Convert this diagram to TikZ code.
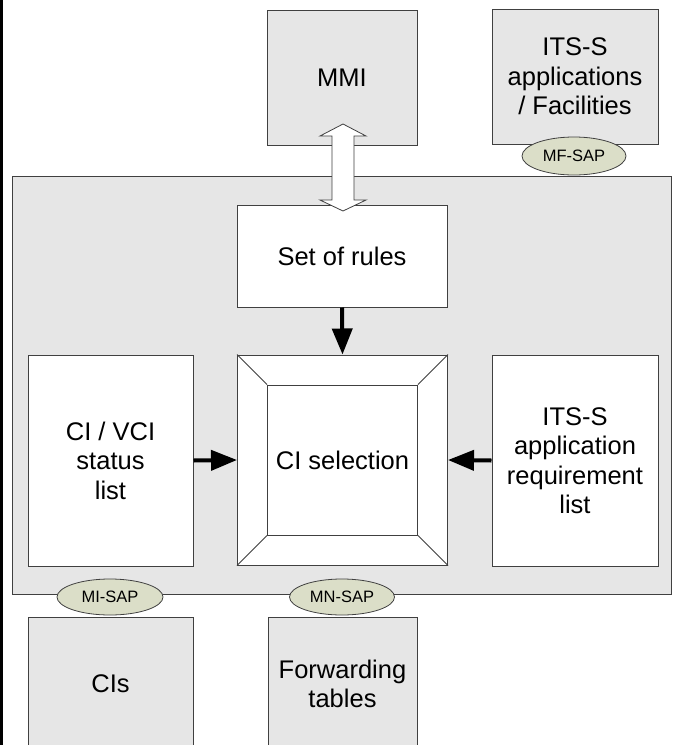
\documentclass[tikz,border=0pt]{standalone}
\usepackage{fontspec}
\setmainfont{Liberation Sans}
\usetikzlibrary{arrows.meta,shapes.geometric}
\definecolor{boxgray}{HTML}{E6E6E6}
\definecolor{sapfill}{HTML}{DBDEC8}
\definecolor{edge}{HTML}{404040}
\begin{document}
\begin{tikzpicture}[x=1pt,y=-1pt,
  box/.style={draw=edge,line width=1pt,inner sep=0pt,align=center,
    font=\fontsize{25.5}{29.5}\selectfont},
  graybox/.style={box,fill=boxgray},
  whitebox/.style={box,fill=white},
  sap/.style={ellipse,draw=edge,line width=0.8pt,fill=sapfill,inner sep=0pt,
    font=\fontsize{16.5}{18}\selectfont},
  bigarrow/.style={line width=4pt,-{Triangle[length=26pt,width=20pt]}}]
\clip (0,0) rectangle (673,745);
\fill[white] (0,0) rectangle (673,745);
\fill[black] (0,0) rectangle (3,745);
% outer container
\node[graybox,minimum width=659,minimum height=418] (big) at (341.5,385) {};
% top boxes
\node[graybox,minimum width=150,minimum height=135] (mmi) at (342,77.5) {MMI};
\node[graybox,minimum width=166,minimum height=135] (its) at (575,76.5) {ITS-S\\applications\\/ Facilities};
% inner boxes
\node[whitebox,minimum width=210,minimum height=102] (rules) at (342,256) {Set of rules};
\node[whitebox,minimum width=165,minimum height=211] (status) at (110.5,460.5) {CI / VCI\\status\\list};
\node[whitebox,minimum width=166,minimum height=211] (req) at (575,460.5) {ITS-S\\application\\requirement\\list};
\node[whitebox,minimum width=210,minimum height=210] (sel) at (342.5,460) {};
\node[whitebox,minimum width=150,minimum height=150] (selin) at (342.5,460) {CI selection};
\foreach \c in {north west,north east,south west,south east}
  \draw[edge,line width=0.8pt] (sel.\c) -- (selin.\c);
% bottom boxes
\node[graybox,minimum width=165,minimum height=134] (cis) at (110.5,684) {CIs};
\node[graybox,minimum width=149,minimum height=134] (fwd) at (342.5,684) {Forwarding\\tables};
% SAP ellipses
\node[sap,minimum width=104,minimum height=38] (mf) at (574,156) {MF-SAP};
\node[sap,minimum width=106,minimum height=36] (mi) at (110,597) {MI-SAP};
\node[sap,minimum width=105,minimum height=36] (mn) at (342,597) {MN-SAP};
% arrows
\draw[bigarrow] (rules.south) -- (sel.north);
\draw[bigarrow] (status.east) -- (sel.west);
\draw[bigarrow] (req.west) -- (sel.east);
% double open arrow between MMI and set of rules
\draw[edge,fill=white,line width=0.8pt,line join=miter]
  (343,124) -- (366,136) -- (354,136) -- (354,200) -- (366,200) -- (343,211)
  -- (320,200) -- (332,200) -- (332,136) -- (320,136) -- cycle;
\end{tikzpicture}
\end{document}
